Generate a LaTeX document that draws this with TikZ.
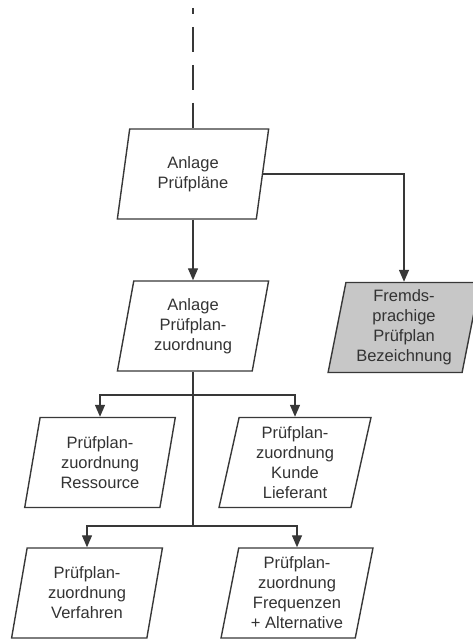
\documentclass[tikz,border=0pt]{standalone}
\usepackage{fontspec}
\setmainfont{Liberation Sans}
\usetikzlibrary{arrows.meta, shapes.geometric, positioning}
\definecolor{lineGray}{gray}{0.22}
\definecolor{textGray}{gray}{0.2}
\definecolor{fillGray}{gray}{0.78}

\begin{document}
\begin{tikzpicture}[x=1pt, y=-1pt,
    box/.style={trapezium, trapezium left angle=79, trapezium right angle=101,
        trapezium stretches=true, minimum width=152pt, minimum height=90pt,
        inner sep=0pt, draw=lineGray, line width=1.4pt, text=textGray,
        align=center, font=\fontsize{16.5}{20}\selectfont},
    conn/.style={draw=lineGray, line width=1.4pt},
    arr/.style={conn, -{Triangle[length=12pt, width=10pt]}}]
    \useasboundingbox (0,0) rectangle (472,639);

    \node[box] (plaene) at (193,174) {Anlage\\Prüfpläne};
    \node[box] (zuord) at (193,326) {Anlage\\Prüfplan-\\zuordnung};
    \node[box, fill=fillGray] (fremd) at (404,327.5) {Fremds-\\prachige\\Prüfplan\\Bezeichnung};
    \node[box] (ress) at (100,462.5) {Prüfplan-\\zuordnung\\Ressource};
    \node[box] (kunde) at (295,462.5) {Prüfplan-\\zuordnung\\Kunde\\Lieferant};
    \node[box] (verf) at (87,593) {Prüfplan-\\zuordnung\\Verfahren};
    \node[box] (freq) at (297,593) {Prüfplan-\\zuordnung\\Frequenzen\\+ Alternative};

    % zulauf von oben
    \coordinate (start) at (193,8);
    \coordinate (gap) at (193,103);
    \draw[conn, dash pattern=on 25pt off 13pt, dash phase=19pt] (start) -- (gap);
    \draw[conn] (gap) -- (plaene.center |- plaene.north);

    \draw[arr] (plaene.center |- plaene.south) -- (zuord.center |- zuord.north);
    \draw[arr] (plaene.east) -| (fremd.center |- fremd.north);

    \coordinate (j1) at (193,395);
    \coordinate (j2) at (193,526);
    \draw[conn] (zuord.center |- zuord.south) -- (j2);
    \draw[arr] (j1) -| (ress.center |- ress.north);
    \draw[arr] (j1) -| (kunde.center |- kunde.north);
    \draw[arr] (j2) -| (verf.center |- verf.north);
    \draw[arr] (j2) -| (freq.center |- freq.north);
\end{tikzpicture}
\end{document}
